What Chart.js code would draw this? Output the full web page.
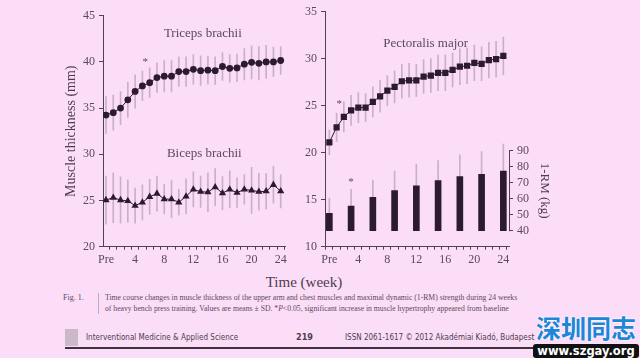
<!DOCTYPE html>
<html><head><meta charset="utf-8">
<script src="https://cdn.jsdelivr.net/npm/chart.js@4.4.0/dist/chart.umd.min.js"></script>
<style>
html,body{margin:0;padding:0;background:#fcddf7;width:640px;height:358px;overflow:hidden;position:relative;font-family:"Liberation Serif",serif;}
#c1{position:absolute;left:0;top:0;}
#c2{position:absolute;left:300px;top:0;}
.t{position:absolute;white-space:nowrap;color:#4d3d4f;}
.cap{position:absolute;white-space:nowrap;color:#5a4a5c;font-size:7.7px;font-family:"Liberation Serif",serif;}
.ft{position:absolute;white-space:nowrap;color:#4a3d4c;font-size:8px;font-family:"DejaVu Sans Condensed","Liberation Sans",sans-serif;}
</style></head><body>
<canvas id="c1" width="300" height="272"></canvas>
<canvas id="c2" width="270" height="272"></canvas>
<div class="t" style="left:0;width:608px;text-align:center;top:274px;font-size:15px;">Time (week)</div>
<div class="cap" style="left:63px;top:293px;font-size:8px;">Fig. 1.</div>
<div style="position:absolute;left:98px;top:293px;width:1px;height:21px;background:#bfaabd;"></div>
<div class="cap" style="left:105px;top:293px;">Time course changes in muscle thickness of the upper arm and chest muscles and maximal dynamic (1-RM) strength during 24 weeks</div>
<div class="cap" style="left:105px;top:304px;">of heavy bench press training. Values are means ± SD. *<i>P</i>&lt;0.05, significant increase in muscle hypertrophy appeared from baseline</div>
<div style="position:absolute;left:65px;top:329px;width:13px;height:17px;background:#cbb9c9;"></div>
<div class="ft" style="left:86px;top:333px;">Interventional Medicine &amp; Applied Science</div>
<div class="ft" style="left:296px;top:332px;font-size:9px;font-weight:bold;">219</div>
<div class="ft" style="left:345px;top:333px;">ISSN 2061-1617 © 2012 Akadémiai Kiadó, Budapest</div>
<div style="position:absolute;left:65px;top:347px;width:472px;height:1.5px;background:#3d3040;"></div>
<div style="position:absolute;left:536px;top:309px;font-family:'Noto Sans CJK SC';font-weight:bold;font-size:25px;color:#1c86d8;letter-spacing:0px;text-shadow:0 0 2px #fff,0 0 2px #fff;white-space:nowrap;">深圳同志</div>
<div style="position:absolute;left:533px;top:344px;width:106px;height:14px;background:#111;border-radius:3px;color:#fff;font-family:'DejaVu Sans';font-weight:bold;font-size:11.5px;line-height:14px;text-align:center;white-space:nowrap;">www.szgay.org</div>
<script>
// ---------- data ----------
const weeks = [0,1,2,3,4,5,6,7,8,9,10,11,12,13,14,15,16,17,18,19,20,21,22,23,24];
const tickWeeks = [0,4,8,12,16,20,24];
const tickLabels = ['Pre','4','8','12','16','20','24'];

const tricepsMean = [34.25,34.5,35.0,35.9,36.8,37.4,37.75,38.3,38.45,38.45,38.95,38.95,39.2,39.05,39.1,39.05,39.5,39.3,39.35,39.75,39.95,39.85,40.0,40.0,40.15];
const tricepsSD   = [2.0,1.9,1.8,1.9,1.8,1.6,1.6,1.6,1.7,1.7,1.6,1.6,1.6,1.6,1.5,1.5,1.5,1.5,1.5,1.7,1.8,1.8,1.8,1.6,1.5];

const bicepsMean = [25.05,25.3,25.05,24.95,24.45,24.8,25.4,25.75,25.15,25.15,24.8,25.45,26.2,25.95,25.9,26.45,25.8,26.2,25.85,26.2,26.1,25.95,26.0,26.7,26.0];
const bicepsSD   = [2.6,2.7,2.5,2.3,1.9,1.9,1.9,1.9,1.6,2.0,1.4,1.9,1.9,1.7,2.1,2.0,1.8,2.0,1.6,1.6,2.5,2.0,1.9,2.0,1.8];

const pectMean = [21.1,22.7,23.8,24.5,24.8,24.8,25.4,26.0,26.6,27.0,27.6,27.7,27.7,28.1,28.2,28.5,28.5,28.8,29.15,29.25,29.55,29.45,29.85,29.95,30.3];
const pectSD   = [1.3,1.5,1.6,1.6,1.6,1.5,1.6,1.7,1.6,1.7,1.8,1.8,1.7,1.8,1.8,1.9,1.9,1.8,1.9,1.9,1.9,1.8,1.9,1.9,2.0];

const rmWeeks = [0,3,6,9,12,15,18,21,24];
const rmMean  = [50.9,55.4,60.9,65.0,68.1,71.3,73.8,75.3,77.3];
const rmSD    = [9.3,10.5,10.8,12.3,13.4,12.5,13.6,14.1,16.9];

const leftYTicks  = [20,25,30,35,40,45];
const rightYTicks = [10,15,20,25,30,35];
const rmTicks     = [40,50,60,70,80,90];

// ---------- styles ----------
const INK = '#2c1b2f';
const AXIS = '#514154';
const TXT = '#5a4a5c';
const ERR = '#c8b1c6';
const SERIF = 'Liberation Serif';

function errBars(xs, lo, hi){ return xs.map((w,i)=>({x:w, y:[lo[i], hi[i]]})); }
function pts(xs, ys){ return xs.map((w,i)=>({x:w, y:ys[i]})); }
const sub = (a,b)=>a.map((v,i)=>v-b[i]);
const add = (a,b)=>a.map((v,i)=>v+b[i]);

function xScale(min,max,h){
  return {type:'linear', min:min, max:max, offset:false,
    afterBuildTicks: s => { s.ticks = weeks.map(v=>({value:v})); },
    ticks:{autoSkip:false, maxRotation:0, padding:3, color:TXT, font:{family:SERIF,size:12},
      callback: v => { const i = tickWeeks.indexOf(v); return i>=0 ? tickLabels[i] : ''; }},
    grid:{display:true, drawOnChartArea:false, drawTicks:true, tickLength:3, tickColor:AXIS, color:AXIS},
    border:{display:true, color:AXIS, width:1},
    afterFit: s => { s.height = h; }
  };
}
function yScale(min,max,ticks,w,pos){
  return {type:'linear', position:pos||'left', min:min, max:max,
    afterBuildTicks: s => { s.ticks = ticks.map(v=>({value:v})); },
    ticks:{padding:4, color:TXT, font:{family:SERIF,size:12}},
    grid:{display:true, drawOnChartArea:false, drawTicks:true, tickLength:4, tickColor:AXIS, color:AXIS},
    border:{display:true, color:AXIS, width:1},
    afterFit: s => { s.width = w; }
  };
}

const notesPlugin = {
  id:'notes',
  afterDraw(chart, args, opts){
    const ctx = chart.ctx;
    ctx.save();
    (opts.texts||[]).forEach(t=>{
      const xs = chart.scales.x, ys = chart.scales[t.axis||'y'];
      const px = xs.getPixelForValue(t.x), py = ys.getPixelForValue(t.y);
      ctx.font = t.font || ('13px "'+SERIF+'"');
      ctx.fillStyle = t.color || TXT;
      ctx.textAlign = t.align || 'center';
      ctx.textBaseline = 'middle';
      ctx.fillText(t.text, px, py);
    });
    (opts.rotated||[]).forEach(t=>{
      const ys = chart.scales[t.axis||'y'];
      const py = t.yc !== undefined ? ys.getPixelForValue(t.yc) : (chart.chartArea.top+chart.chartArea.bottom)/2;
      const px = t.side==='right' ? chart.chartArea.right + t.dx : chart.chartArea.left - t.dx;
      ctx.save();
      ctx.translate(px, py);
      ctx.rotate(t.rot);
      ctx.font = t.font;
      ctx.fillStyle = t.color || TXT;
      ctx.textAlign = 'center';
      ctx.textBaseline = 'middle';
      ctx.fillText(t.text, 0, 0);
      ctx.restore();
    });
    if (opts.partialAxis){
      const a = opts.partialAxis, ys = chart.scales[a.axis];
      const x = chart.chartArea.right + 0.5;
      ctx.strokeStyle = AXIS; ctx.lineWidth = 1;
      ctx.beginPath();
      ctx.moveTo(x, ys.getPixelForValue(a.from)+0.5);
      ctx.lineTo(x, ys.getPixelForValue(a.to)-0.5);
      ctx.stroke();
    }
    ctx.restore();
  }
};

const common = {responsive:false, animation:false, devicePixelRatio:1,
  plugins:{legend:{display:false}, tooltip:{enabled:false}}};

// ---------- left chart ----------
new Chart(document.getElementById('c1'), {
  type:'line',
  data:{datasets:[
    {type:'bar', data:errBars(weeks, sub(tricepsMean,tricepsSD), add(tricepsMean,tricepsSD)), backgroundColor:ERR, barThickness:1, grouped:false, order:5},
    {type:'bar', data:errBars(weeks, sub(bicepsMean,bicepsSD), add(bicepsMean,bicepsSD)), backgroundColor:ERR, barThickness:1, grouped:false, order:5},
    {type:'line', data:pts(weeks, tricepsMean), borderColor:INK, borderWidth:1, pointStyle:'circle', pointRadius:3.4, pointBackgroundColor:INK, pointBorderColor:INK, pointBorderWidth:0, order:1},
    {type:'line', data:pts(weeks, bicepsMean), borderColor:INK, borderWidth:1, pointStyle:'triangle', pointRadius:4.2, pointBackgroundColor:INK, pointBorderColor:INK, pointBorderWidth:0, order:1}
  ]},
  options:Object.assign({}, common, {
    layout:{padding:{left:0, right:15, top:15.7, bottom:0}},
    scales:{ x:xScale(-0.41, 24.59, 272-246.7), y:yScale(20,45,leftYTicks,103) },
    plugins:{legend:{display:false}, tooltip:{enabled:false},
      notes:{
        texts:[
          {text:'Triceps brachii', x:13.3, y:43.1},
          {text:'Biceps brachii', x:13.5, y:30.1},
          {text:'*', x:5, y:40.0, font:'11px "'+SERIF+'"', align:'left'}
        ],
        rotated:[{text:'Muscle thickness (mm)', dx:31.5, rot:-Math.PI/2, font:'14px "'+SERIF+'"', color:'#4d3d4f'}]
      }}
  }),
  plugins:[notesPlugin]
});

// ---------- right chart ----------
new Chart(document.getElementById('c2'), {
  type:'line',
  data:{datasets:[
    {type:'bar', data:errBars(weeks, sub(pectMean,pectSD), add(pectMean,pectSD)), backgroundColor:ERR, barThickness:1, grouped:false, order:5, yAxisID:'y'},
    {type:'line', data:pts(weeks, pectMean), borderColor:INK, borderWidth:1, pointStyle:'rect', pointRadius:4.4, pointBackgroundColor:INK, pointBorderColor:INK, pointBorderWidth:0, order:1, yAxisID:'y'},
    {type:'bar', data:errBars(rmWeeks, rmMean, add(rmMean,rmSD)), backgroundColor:ERR, barThickness:1, grouped:false, order:4, yAxisID:'y2'},
    {type:'bar', data:errBars(rmWeeks, rmWeeks.map(()=>40), rmMean), backgroundColor:INK, barThickness:6, grouped:false, order:3, yAxisID:'y2'}
  ]},
  options:Object.assign({}, common, {
    layout:{padding:{left:0, right:0, top:11.7, bottom:0}},
    scales:{
      x:xScale(-0.6, 24.78, 272-246.7),
      y:yScale(10,35,rightYTicks,25),
      y2:Object.assign(yScale(30,176.875,rmTicks,61,'right'), {border:{display:false}})
    },
    plugins:{legend:{display:false}, tooltip:{enabled:false},
      notes:{
        texts:[
          {text:'Pectoralis major', x:13.3, y:31.6},
          {text:'*', x:1, y:25.15, font:'11px "'+SERIF+'"', align:'left'},
          {text:'*', x:3, y:70.6, axis:'y2', font:'11px "'+SERIF+'"'}
        ],
        rotated:[{text:'1-RM (kg)', dx:35, rot:Math.PI/2, yc:65, axis:'y2', side:'right', font:'13px "'+SERIF+'"', color:'#4d3d4f'}],
        partialAxis:{axis:'y2', from:40, to:90}
      }}
  }),
  plugins:[notesPlugin]
});
</script>
</body></html>
